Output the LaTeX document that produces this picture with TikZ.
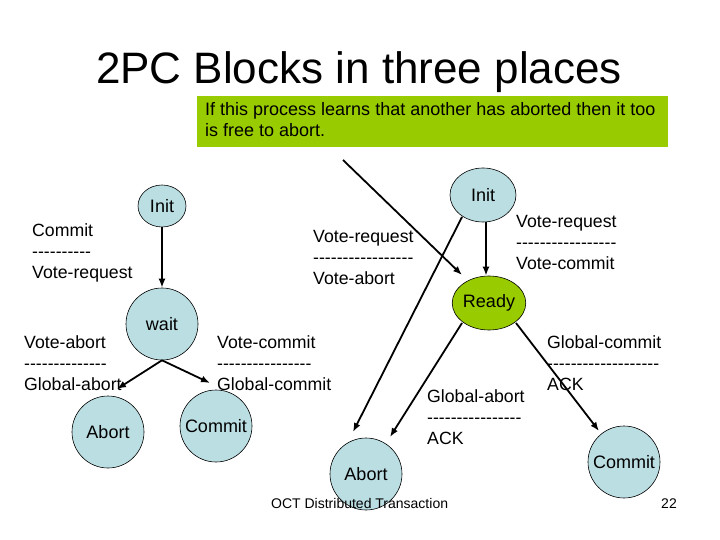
\documentclass[tikz,border=0pt]{standalone}
\usepackage{fontspec}
\setmainfont{Liberation Sans}
\usetikzlibrary{arrows.meta,shapes.geometric}
\definecolor{stateblue}{RGB}{187,222,226}
\definecolor{limegreen}{RGB}{153,204,0}
\newcommand\dashrun[1]{\foreach \k in {1,...,#1}{-}}
\tikzset{
  state/.style={circle,draw=black,line width=0.6bp,fill=stateblue,minimum size=72bp,inner sep=0pt,font=\fontsize{18bp}{21bp}\selectfont},
  ostate/.style={ellipse,draw=black,line width=0.6bp,fill=stateblue,inner sep=0pt,font=\fontsize{18bp}{21bp}\selectfont},
  lbl/.style={anchor=base west,align=left,inner sep=0pt,font=\fontsize{17.7bp}{21bp}\selectfont},
  arr/.style={line width=1.8bp,-{Latex[length=9bp,width=7bp]}},
}
\begin{document}
\begin{tikzpicture}[x=1bp,y=-1bp]
\useasboundingbox (0,0) rectangle (720,540);
% title
\node[anchor=base,inner sep=0pt,font=\fontsize{44bp}{50bp}\selectfont] (title) at (359,84) {2PC Blocks in three places};
% note box
\node[anchor=north west,fill=limegreen,minimum width=471bp,minimum height=51bp,inner sep=0pt] (note) at (197,96) {};
\node[lbl,font=\fontsize{18bp}{21bp}\selectfont] (notetext) at (205,137) {If this process learns that another has aborted then it too\\is free to abort.};
% left machine
\node[ostate,minimum width=48bp,minimum height=42bp] (init1) at (162,206) {Init};
\node[state] (wait) at (162,324) {wait};
\node[state] (abort1) at (108,432) {Abort};
\node[state] (commit1) at (216,426) {Commit};
% right machine
\node[ostate,minimum width=66bp,minimum height=54bp] (init2) at (483,195) {Init};
\node[ostate,fill=limegreen,minimum width=66bp,minimum height=54bp] (ready) at (489,303) {Ready};
\node[state] (abort2) at (366,474) {Abort};
\node[state] (commit2) at (624,462) {Commit};
% labels (anchored at the baseline of their last line)
\node[lbl] (l1) at (32,279) {Commit\\\dashrun{10}\\Vote-request};
\node[lbl] (l2) at (313,285) {Vote-request\\\dashrun{17}\\Vote-abort};
\node[lbl] (l3) at (516,270) {Vote-request\\\dashrun{17}\\Vote-commit};
\node[lbl] (l4) at (24,390) {Vote-abort\\\dashrun{14}\\Global-abort};
\node[lbl] (l5) at (217,390) {Vote-commit\\\dashrun{16}\\Global-commit};
\node[lbl] (l6) at (427,444) {Global-abort\\\dashrun{16}\\ACK};
\node[lbl] (l7) at (547,390) {Global-commit\\\dashrun{19}\\ACK};
% footer
\node[anchor=base west,inner sep=0pt,font=\fontsize{14bp}{16bp}\selectfont] (foot) at (271,508) {OCT Distributed Transaction};
\node[anchor=base east,inner sep=0pt,font=\fontsize{14bp}{16bp}\selectfont] (page) at (677,508) {22};
% connector ends
\coordinate (ta1) at (117,389);
\coordinate (tc1) at (210,383);
\coordinate (src) at (343,160);
\coordinate (tr) at (462,275);
\coordinate (ta2a) at (353,432);
\coordinate (ta2b) at (390,437);
\coordinate (tc2) at (599,431);
\coordinate (i2o) at (462,217);
\coordinate (ro1) at (462,323);
\coordinate (ro2) at (516,323);
% connectors
\draw[arr] (init1.south) -- (wait.north);
\draw[arr] (wait.south) -- (ta1);
\draw[arr] (wait.south) -- (tc1);
\draw[arr] (init2.south -| 486,0) -- (ready.north -| 486,0);
\draw[arr] (src) -- (tr);
\draw[arr] (i2o) -- (ta2a);
\draw[arr] (ro1) -- (ta2b);
\draw[arr] (ro2) -- (tc2);
\end{tikzpicture}
\end{document}
